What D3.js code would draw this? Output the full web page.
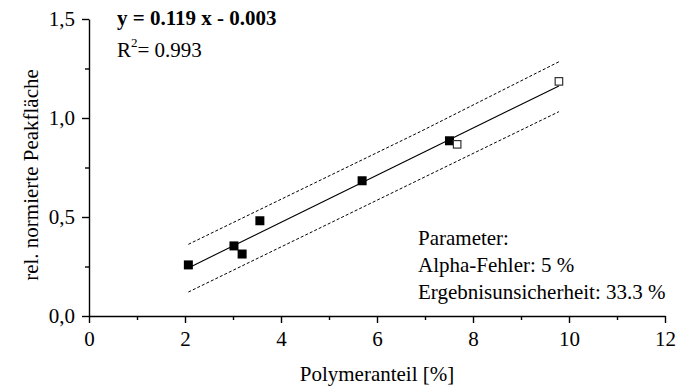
<!DOCTYPE html>
<html>
<head>
<meta charset="utf-8">
<script src="https://cdn.jsdelivr.net/npm/d3@7"></script>
<style>
  body { margin: 0; background: #fff; }
  text { font-family: "Liberation Serif", "Times New Roman", serif; fill: #000; }
</style>
</head>
<body>
<div id="chart"></div>
<script>
// data
var calX = [2.07, 3.02, 3.19, 3.56, 5.69, 7.51];
var calY = [0.258, 0.354, 0.313, 0.481, 0.683, 0.885];
var testX = [7.67, 9.79];
var testY = [0.867, 1.185];
var fitX = [2.07, 9.79];
var fitY = [0.243, 1.162];
var upperX = [2.07, 6.9, 9.79];
var upperY = [0.362, 0.931, 1.284];
var lowerX = [2.07, 9.79];
var lowerY = [0.121, 1.032];
var xTicks = [0, 2, 4, 6, 8, 10, 12];
var yTicks = [0, 0.5, 1.0, 1.5];

var svgWidth = 676;
var svgHeight = 387;
var margin = { top: 19, right: 11, bottom: 71, left: 89 };
var width = svgWidth - margin.left - margin.right;
var height = svgHeight - margin.top - margin.bottom;
var fs = "21px";

var svg = d3.select("#chart").append("svg")
  .attr("width", svgWidth)
  .attr("height", svgHeight);

var chartGroup = svg.append("g")
  .attr("transform", `translate(${margin.left}, ${margin.top})`);

var x = d3.scaleLinear().domain([0, 12]).range([0, width]);
var y = d3.scaleLinear().domain([0, 1.5]).range([height, 0]);

// axes: major ticks plus minor ticks
var bottomAxis = d3.axisBottom(x).tickValues(xTicks).tickSize(7).tickSizeOuter(0).tickPadding(8)
  .tickFormat(d3.format("d"));
var leftAxis = d3.axisLeft(y).tickValues(yTicks).tickSize(7).tickSizeOuter(0).tickPadding(7)
  .tickFormat(d => d3.format(".1f")(d).replace(".", ","));

chartGroup.append("g")
  .attr("transform", `translate(0, ${height})`)
  .call(bottomAxis);
chartGroup.append("g")
  .attr("transform", `translate(0, ${height})`)
  .call(d3.axisBottom(x).tickValues([1, 3, 5, 7, 9, 11]).tickSize(4).tickFormat("").tickSizeOuter(0))
  .select(".domain").remove();

chartGroup.append("g").call(leftAxis);
chartGroup.append("g")
  .call(d3.axisLeft(y).tickValues([0.25, 0.75, 1.25]).tickSize(4).tickFormat("").tickSizeOuter(0))
  .select(".domain").remove();

chartGroup.selectAll(".domain, .tick line").attr("stroke", "#000").attr("stroke-width", 1.4);
chartGroup.selectAll(".tick text").attr("font-size", fs)
  .style("font-family", "'Liberation Serif', serif");

// lines
var line = d3.line().x(d => x(d[0])).y(d => y(d[1]));

chartGroup.append("path")
  .datum(d3.zip(fitX, fitY))
  .attr("d", line)
  .attr("fill", "none")
  .attr("stroke", "#000")
  .attr("stroke-width", 1.1);

[[upperX, upperY], [lowerX, lowerY]].forEach(function(b) {
  chartGroup.append("path")
    .datum(d3.zip(b[0], b[1]))
    .attr("d", line)
    .attr("fill", "none")
    .attr("stroke", "#000")
    .attr("stroke-width", 1)
    .attr("stroke-dasharray", "3,2");
});

// squares
var s = 9;
chartGroup.selectAll(".cal")
  .data(d3.zip(calX, calY))
  .enter()
  .append("rect")
  .attr("x", d => x(d[0]) - s / 2)
  .attr("y", d => y(d[1]) - s / 2)
  .attr("width", s)
  .attr("height", s)
  .attr("fill", "#000");

var t = 7.5;
chartGroup.selectAll(".test")
  .data(d3.zip(testX, testY))
  .enter()
  .append("rect")
  .attr("x", d => x(d[0]) - t / 2)
  .attr("y", d => y(d[1]) - t / 2)
  .attr("width", t)
  .attr("height", t)
  .attr("fill", "#fff")
  .attr("stroke", "#333")
  .attr("stroke-width", 1.2);

// texts
svg.append("text")
  .attr("x", 117)
  .attr("y", 25)
  .attr("font-size", fs)
  .attr("font-weight", "bold")
  .text("y = 0.119 x - 0.003");

var r2 = svg.append("text")
  .attr("x", 117)
  .attr("y", 57)
  .attr("font-size", fs);
r2.append("tspan").text("R");
r2.append("tspan").attr("font-size", "13px").attr("dy", -10).text("2");
r2.append("tspan").attr("dy", 10).text("= 0.993");

var params = ["Parameter:", "Alpha-Fehler: 5 %", "Ergebnisunsicherheit: 33.3 %"];
svg.selectAll(".param")
  .data(params)
  .enter()
  .append("text")
  .attr("x", 418)
  .attr("y", (d, i) => 245 + i * 27)
  .attr("font-size", fs)
  .text(d => d);

svg.append("text")
  .attr("x", margin.left + width / 2)
  .attr("y", 381)
  .attr("text-anchor", "middle")
  .attr("font-size", fs)
  .text("Polymeranteil [%]");

svg.append("text")
  .attr("transform", "rotate(-90)")
  .attr("x", -175)
  .attr("y", 38)
  .attr("text-anchor", "middle")
  .attr("font-size", fs)
  .text("rel. normierte Peakfläche");
</script>
</body>
</html>
